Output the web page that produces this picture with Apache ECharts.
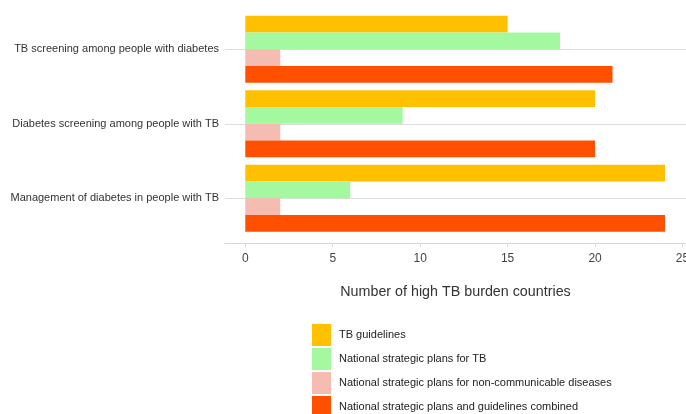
<!DOCTYPE html>
<html><head><meta charset="utf-8">
<script src="https://cdn.jsdelivr.net/npm/echarts@6/dist/echarts.min.js"></script>
<style>html,body{margin:0;padding:0;background:#fff}#c{width:686px;height:414px}</style>
</head><body><div id="c"></div>
<script>
const categories = [
  "TB screening among people with diabetes",
  "Diabetes screening among people with TB",
  "Management of diabetes in people with TB"
];
const seriesNames = [
  "TB guidelines",
  "National strategic plans for TB",
  "National strategic plans for non-communicable diseases",
  "National strategic plans and guidelines combined"
];
const tbGuidelines = [15, 20, 24];
const nspTB = [18, 9, 6];
const nspNCD = [2, 2, 2];
const combined = [21, 20, 24];
const xTicks = [0, 5, 10, 15, 20, 25];
const colors = ["#FFC000", "#A4F9A0", "#F5BDB1", "#FF5000"];
const values = [tbGuidelines, nspTB, nspNCD, combined];

const font = "'Liberation Sans', Arial, sans-serif";
const chart = echarts.init(document.getElementById('c'), null, {renderer: 'canvas'});
chart.setOption({
  animation: false,
  grid: {left: 225, right: 0, top: 12, height: 223.5, containLabel: false, outerBoundsMode: 'none'},
  xAxis: {
    type: 'value', min: -1.16, max: 25.2, offset: 7.5,
    axisLine: {show: true, lineStyle: {color: '#d9d9d9'}},
    axisTick: {show: true, customValues: xTicks, length: 4, lineStyle: {color: '#d9d9d9'}},
    axisLabel: {customValues: xTicks, color: '#444', fontFamily: font, fontSize: 12, margin: 10},
    splitLine: {show: false},
    name: 'Number of high TB burden countries', nameLocation: 'middle', nameGap: 42,
    nameTextStyle: {color: '#333', fontFamily: font, fontSize: 14.3}
  },
  yAxis: {
    type: 'category', data: categories, inverse: true,
    axisLine: {show: false}, axisTick: {show: false},
    axisLabel: {color: '#333', fontFamily: font, fontSize: 11, margin: 6},
    splitLine: {show: true, alignWithLabel: true, lineStyle: {color: '#dddddd'}}
  },
  legend: {
    orient: 'vertical', left: 312, top: 324, height: 120, padding: 0,
    itemWidth: 19, itemHeight: 22, itemGap: 2, icon: 'rect',
    textStyle: {color: '#222', fontFamily: font, fontSize: 11, padding: [0, 0, 0, 3]},
    data: seriesNames
  },
  series: seriesNames.map((n, i) => ({
    name: n, type: 'bar', data: values[i],
    itemStyle: {color: colors[i]},
    barCategoryGap: '10%', barGap: '0%'
  }))
});
</script></body></html>
